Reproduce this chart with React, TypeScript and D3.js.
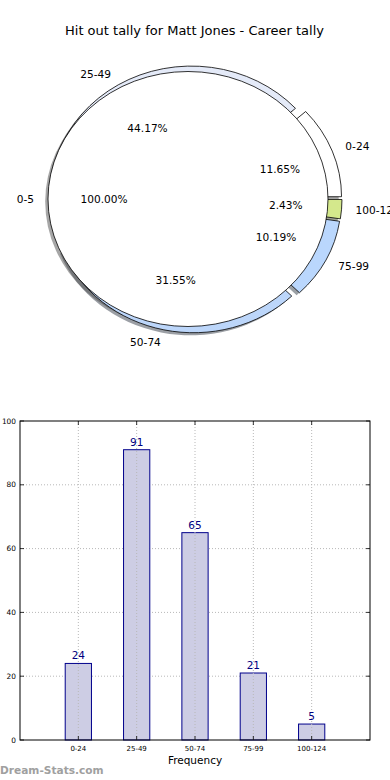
import React from "react";
import * as d3 from "d3";

const categories = ["0-24", "25-49", "50-74", "75-99", "100-124"];
const counts = [24, 91, 65, 21, 5];
const ringColors = ["#ffffff", "#e4eaf8", "#bcd6fa", "#bad7fd", "#d4e88c"];
const innerLabels = ["0-5"];
const innerValues = [1];
const yTicks = [0, 20, 40, 60, 80, 100];
const title = "Hit out tally for Matt Jones - Career tally";

const W = 390;
const H = 780;
const FONT = "'DejaVu Sans', Verdana, sans-serif";

// pie geometry
const CX = 195;
const CY = 199;
const RX = 140;
const RY = 127.5;
const EXPLODE = 0.05;

function shade(c: string) {
  const col = d3.rgb(c);
  return d3.rgb(col.r * 0.3, col.g * 0.3, col.b * 0.3).formatHex();
}

type Wedge = {
  label: string;
  pct: string;
  color: string;
  t1: number;
  t2: number;
  mid: number;
};

function makeWedges(values: number[], labels: string[], colors: string[]): Wedge[] {
  const total = d3.sum(values);
  const pie = d3.pie<number>().sort(null).value((d) => d).startAngle(0).endAngle(2 * Math.PI);
  return pie(values).map((p, i) => ({
    label: labels[i],
    pct: ((values[i] / total) * 100).toFixed(2) + "%",
    color: colors[i],
    t1: p.startAngle,
    t2: p.endAngle,
    mid: (p.startAngle + p.endAngle) / 2,
  }));
}

const outer = makeWedges(counts, categories, ringColors);
const inner = makeWedges(innerValues, innerLabels, ["#ffffff"]);

const arcGen = d3.arc<any>().innerRadius(0).outerRadius(RX);

function wedgePath(w: Wedge) {
  // matplotlib angles (CCW from 3 o'clock) -> d3 angles (CW from 12 o'clock)
  return arcGen({ startAngle: Math.PI / 2 - w.t2, endAngle: Math.PI / 2 - w.t1 }) as string;
}

function PieLayer({ wedges, kind }: { wedges: Wedge[]; kind: "shadow" | "wedge" }) {
  const sy = RY / RX;
  return (
    <g transform={`translate(${CX},${CY}) scale(1,${sy})`}>
      {wedges.map((w, i) => {
        const dx = EXPLODE * RX * Math.cos(w.mid);
        const dy = -EXPLODE * RX * Math.sin(w.mid);
        if (kind === "shadow") {
          const sc = shade(w.color);
          return (
            <path
              key={i}
              d={wedgePath(w)}
              transform={`translate(${dx - 0.02 * RX},${dy + 0.02 * RX})`}
              fill={sc}
              fillOpacity={0.5}
              stroke="none"
            />
          );
        }
        return (
          <path
            key={i}
            d={wedgePath(w)}
            transform={`translate(${dx},${dy})`}
            fill={w.color}
            stroke="#000"
            strokeWidth={0.8}
            strokeLinejoin="miter"
            vectorEffect="non-scaling-stroke"
          />
        );
      })}
    </g>
  );
}

function PieText({ wedges }: { wedges: Wedge[] }) {
  return (
    <g fontFamily={FONT} fontSize={10.6} fill="#000">
      {wedges.map((w, i) => {
        const c = Math.cos(w.mid);
        const s = Math.sin(w.mid);
        const lx = CX + (1.1 + EXPLODE) * RX * c;
        const ly = CY - (1.1 + EXPLODE) * RY * s;
        const px = CX + (0.6 + EXPLODE) * RX * c;
        const py = CY - (0.6 + EXPLODE) * RY * s;
        return (
          <g key={i}>
            <text x={lx} y={ly} dy="0.36em" textAnchor={c < 0 ? "end" : "start"}>
              {w.label}
            </text>
            <text x={px} y={py} dy="0.36em" textAnchor="middle">
              {w.pct}
            </text>
          </g>
        );
      })}
    </g>
  );
}

// bar chart geometry
const PL = 20;
const PR = 370;
const PT = 421;
const PB = 740;
const BAR_W = 0.45;

export default function App() {
  const x = d3.scaleLinear().domain([-1, 5]).range([PL, PR]);
  const y = d3.scaleLinear().domain([0, 100]).range([PB, PT]);
  const idx = categories.map((_, i) => i);
  const gridY = yTicks.filter((t) => t > 0 && t < 100);

  return (
    <svg
      width={W}
      height={H}
      viewBox={`0 0 ${W} ${H}`}
      style={{ position: "absolute", left: 0, top: 0, display: "block" }}
    >
      <rect x={0} y={0} width={W} height={H} fill="#fff" />
      <text x={194.5} y={30} dy="0.36em" textAnchor="middle" fontFamily={FONT} fontSize={13}>
        {title}
      </text>

      {/* pie: shadows first (lower zorder), then outer wedges, then inner pie */}
      <PieLayer wedges={outer} kind="shadow" />
      <PieLayer wedges={inner} kind="shadow" />
      <PieLayer wedges={outer} kind="wedge" />
      <PieLayer wedges={inner} kind="wedge" />
      <PieText wedges={outer} />
      <PieText wedges={inner} />

      {/* bar chart */}
      <g>
        {gridY.map((t) => (
          <line
            key={"gy" + t}
            x1={PL}
            x2={PR}
            y1={y(t)}
            y2={y(t)}
            stroke="#b8b8b8"
            strokeWidth={1}
            strokeDasharray="1,2"
          />
        ))}
        {idx.map((i) => (
          <rect
            key={"b" + i}
            x={x(i - BAR_W / 2)}
            y={y(counts[i])}
            width={x(BAR_W) - x(0)}
            height={y(0) - y(counts[i])}
            fill="#cdcde4"
            stroke="#00008b"
            strokeWidth={1}
          />
        ))}
        {idx.map((i) => (
          <line
            key={"gx" + i}
            x1={x(i)}
            x2={x(i)}
            y1={PT}
            y2={PB}
            stroke="#b8b8b8"
            strokeWidth={1}
            strokeDasharray="1,2"
          />
        ))}
        {/* ticks */}
        {yTicks.map((t) => (
          <g key={"ty" + t}>
            <line x1={PL} x2={PL + 4} y1={y(t)} y2={y(t)} stroke="#000" strokeWidth={0.8} />
            <line x1={PR - 4} x2={PR} y1={y(t)} y2={y(t)} stroke="#000" strokeWidth={0.8} />
            <text
              x={PL - 4}
              y={y(t)}
              dy="0.36em"
              textAnchor="end"
              fontFamily={FONT}
              fontSize={7.4}
              fill="#000"
            >
              {t}
            </text>
          </g>
        ))}
        {idx.map((i) => (
          <g key={"tx" + i}>
            <line x1={x(i)} x2={x(i)} y1={PB} y2={PB - 4} stroke="#000" strokeWidth={0.8} />
            <line x1={x(i)} x2={x(i)} y1={PT} y2={PT + 4} stroke="#000" strokeWidth={0.8} />
            <text
              x={x(i)}
              y={PB + 8}
              dy="0.36em"
              textAnchor="middle"
              fontFamily={FONT}
              fontSize={7}
              fill="#000"
            >
              {categories[i]}
            </text>
            <text
              x={x(i)}
              y={y(counts[i]) - 4}
              textAnchor="middle"
              fontFamily={FONT}
              fontSize={10.5}
              fill="#000080"
            >
              {counts[i]}
            </text>
          </g>
        ))}
        <rect
          x={PL}
          y={PT}
          width={PR - PL}
          height={PB - PT}
          fill="none"
          stroke="#000"
          strokeWidth={1}
        />
        <text x={(PL + PR) / 2} y={760} dy="0.36em" textAnchor="middle" fontFamily={FONT} fontSize={10.5}>
          Frequency
        </text>
      </g>

      <text x={0} y={770} dy="0.36em" fontFamily={FONT} fontSize={10.6} fontWeight="bold" fill="#a0a0a0">
        Dream-Stats.com
      </text>
    </svg>
  );
}
